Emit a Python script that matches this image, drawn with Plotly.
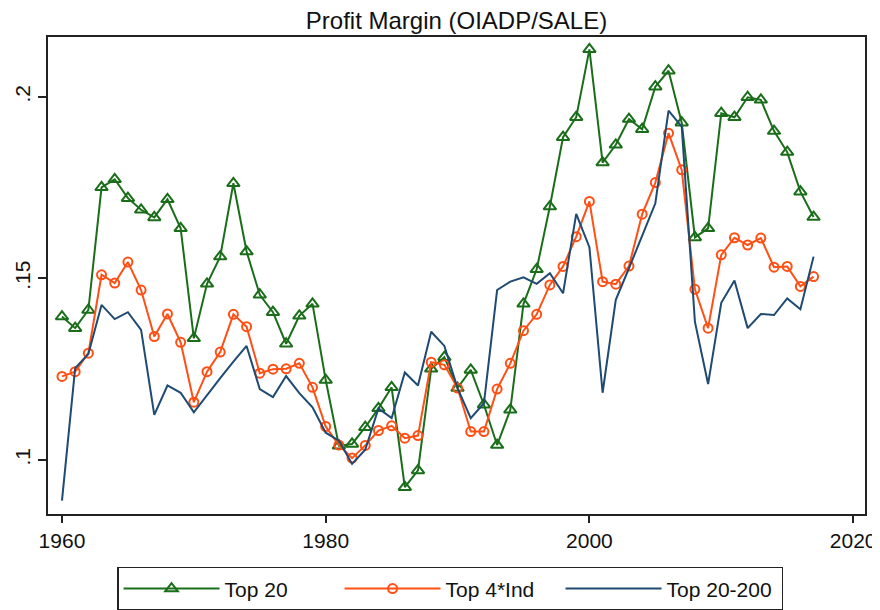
import plotly.graph_objects as go

years = list(range(1960, 2018))

top20 = [0.1395, 0.1363, 0.1413, 0.1751, 0.1773, 0.1721, 0.1689, 0.1668, 0.1718, 0.1638,
         0.1335, 0.1485, 0.1560, 0.1762, 0.1574, 0.1455, 0.1407, 0.1320, 0.1397, 0.1430,
         0.1220, 0.1039, 0.1044, 0.1090, 0.1142, 0.1200, 0.0925, 0.0971, 0.1251, 0.1283,
         0.1198, 0.1248, 0.1152, 0.1041, 0.1138, 0.1430, 0.1525, 0.1698, 0.1889, 0.1944,
         0.2131, 0.1819, 0.1868, 0.1939, 0.1911, 0.2028, 0.2072, 0.1929, 0.1613, 0.1638,
         0.1955, 0.1944, 0.1999, 0.1992, 0.1906, 0.1848, 0.1739, 0.1669]

top4ind = [0.1230, 0.1243, 0.1294, 0.1510, 0.1487, 0.1545, 0.1468, 0.1340, 0.1402, 0.1324,
           0.1159, 0.1243, 0.1297, 0.1401, 0.1367, 0.1239, 0.1250, 0.1251, 0.1266, 0.1200,
           0.1092, 0.1041, 0.1005, 0.1040, 0.1081, 0.1094, 0.1060, 0.1067, 0.1269, 0.1262,
           0.1198, 0.1078, 0.1078, 0.1195, 0.1266, 0.1356, 0.1401, 0.1482, 0.1533, 0.1615,
           0.1712, 0.1491, 0.1484, 0.1534, 0.1677, 0.1764, 0.1900, 0.1799, 0.1470, 0.1363,
           0.1565, 0.1612, 0.1592, 0.1611, 0.1531, 0.1533, 0.1478, 0.1505]

top20_200 = [0.0888, 0.1253, 0.1292, 0.1427, 0.1388, 0.1407, 0.1358, 0.1124, 0.1205, 0.1185,
             0.1131, 0.1179, 0.1225, 0.1271, 0.1314, 0.1195, 0.1173, 0.1231, 0.1184, 0.1145,
             0.1075, 0.1053, 0.0989, 0.1028, 0.1142, 0.1115, 0.1241, 0.1205, 0.1353, 0.1314,
             0.1198, 0.1115, 0.1156, 0.1468, 0.1491, 0.1503, 0.1485, 0.1514, 0.1459, 0.1678,
             0.1586, 0.1185, 0.1441, 0.1528, 0.1620, 0.1707, 0.1962, 0.1918, 0.1381, 0.1209,
             0.1433, 0.1494, 0.1363, 0.1402, 0.1399, 0.1445, 0.1415, 0.1560]

x_ticks = [1960, 1980, 2000, 2020]
y_ticks = [0.1, 0.15, 0.2]
y_ticktext = [".1", ".15", ".2"]

GREEN = "#1a6e1a"
ORANGE = "#ff4f14"
NAVY = "#1f4a72"
FONT = "Liberation Sans, Arial, sans-serif"

fig = go.Figure()
fig.add_trace(go.Scatter(
    x=years, y=top20, name="Top 20", mode="lines+markers",
    line=dict(color=GREEN, width=2),
    marker=dict(symbol="triangle-up-open", size=11, color=GREEN, line=dict(width=2, color=GREEN)),
))
fig.add_trace(go.Scatter(
    x=years, y=top4ind, name="Top 4*Ind", mode="lines+markers",
    line=dict(color=ORANGE, width=2),
    marker=dict(symbol="circle-open", size=9, color=ORANGE, line=dict(width=2, color=ORANGE)),
))
fig.add_trace(go.Scatter(
    x=years, y=top20_200, name="Top 20-200", mode="lines",
    line=dict(color=NAVY, width=2),
))

# the page body has an 8px default margin, so the figure is sized to fit the window
fig.update_layout(
    width=872, height=602,
    margin=dict(l=40, r=15, t=29, b=96, autoexpand=False),
    paper_bgcolor="white", plot_bgcolor="white",
    font=dict(family=FONT, color="#111111", size=21),
    title=dict(text="Profit Margin (OIADP/SALE)", x=0.5, xref="paper", xanchor="center",
               y=0.993, yref="container", yanchor="top",
               font=dict(size=24, family=FONT, color="#111111")),
    xaxis=dict(
        range=[1958.94, 2020.9], tickmode="array", tickvals=x_ticks,
        showgrid=False, zeroline=False, ticks="outside", ticklen=7, tickwidth=1.5,
        tickcolor="#222222", showline=True, linecolor="#222222", linewidth=1.5,
        mirror=True, tickfont=dict(size=21, family=FONT), automargin=False,
    ),
    yaxis=dict(
        range=[0.0851, 0.2165], tickmode="array", tickvals=y_ticks, ticktext=y_ticktext,
        tickangle=-90, showgrid=False, zeroline=False, ticks="outside", ticklen=8,
        tickwidth=1.5, tickcolor="#222222", showline=True, linecolor="#222222",
        linewidth=1.5, mirror=True, tickfont=dict(size=21, family=FONT), automargin=False,
    ),
    legend=dict(
        orientation="h", x=0.0845, xanchor="left", y=-0.111, yanchor="top",
        bordercolor="#222222", borderwidth=1.5, bgcolor="white",
        font=dict(size=21, family=FONT), itemwidth=96,
        entrywidth=110, entrywidthmode="pixels",
    ),
    showlegend=True,
)

fig.write_html("out.html")
